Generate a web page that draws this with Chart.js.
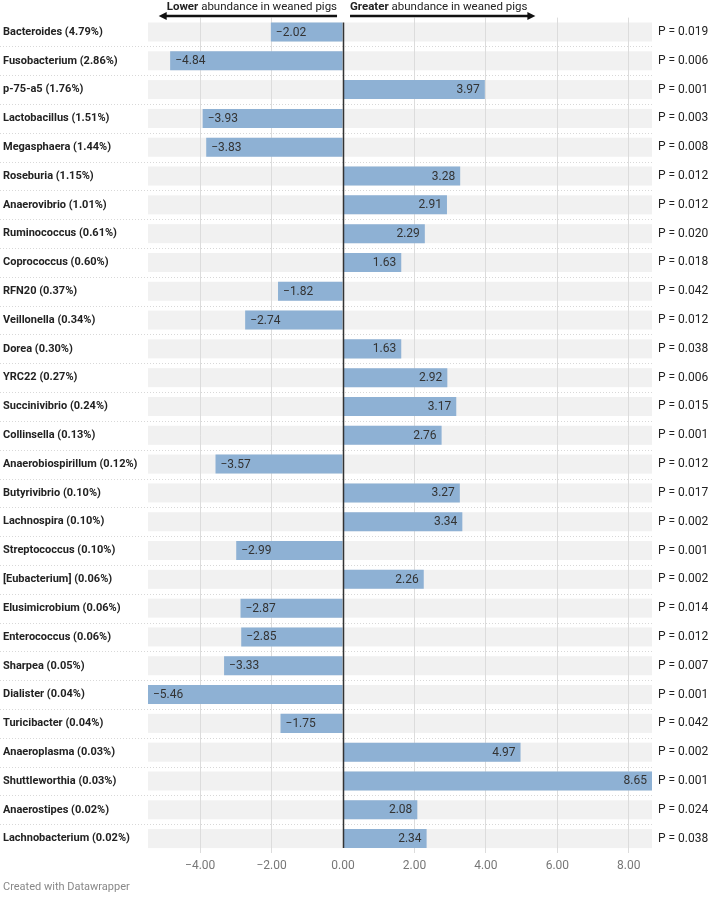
<!DOCTYPE html>
<html>
<head>
<meta charset="utf-8">
<script src="https://cdn.jsdelivr.net/npm/chart.js@4"></script>
<style>
  body { margin: 0; background: #fff; }
  canvas { display: block; }
</style>
</head>
<body>
<canvas id="chart" width="708" height="898"></canvas>
<script>
const genera = ['Bacteroides (4.79%)', 'Fusobacterium (2.86%)', 'p-75-a5 (1.76%)', 'Lactobacillus (1.51%)',
    'Megasphaera (1.44%)', 'Roseburia (1.15%)', 'Anaerovibrio (1.01%)', 'Ruminococcus (0.61%)',
    'Coprococcus (0.60%)', 'RFN20 (0.37%)', 'Veillonella (0.34%)', 'Dorea (0.30%)', 'YRC22 (0.27%)',
    'Succinivibrio (0.24%)', 'Collinsella (0.13%)', 'Anaerobiospirillum (0.12%)', 'Butyrivibrio (0.10%)',
    'Lachnospira (0.10%)', 'Streptococcus (0.10%)', '[Eubacterium] (0.06%)', 'Elusimicrobium (0.06%)',
    'Enterococcus (0.06%)', 'Sharpea (0.05%)', 'Dialister (0.04%)', 'Turicibacter (0.04%)',
    'Anaeroplasma (0.03%)', 'Shuttleworthia (0.03%)', 'Anaerostipes (0.02%)', 'Lachnobacterium (0.02%)'];

const foldChange = [-2.02, -4.84, 3.97, -3.93, -3.83, 3.28, 2.91, 2.29, 1.63, -1.82, -2.74, 1.63, 2.92,
    3.17, 2.76, -3.57, 3.27, 3.34, -2.99, 2.26, -2.87, -2.85, -3.33, -5.46, -1.75, 4.97, 8.65, 2.08, 2.34];

const pValues = ['0.019', '0.006', '0.001', '0.003', '0.008', '0.012', '0.012', '0.020', '0.018', '0.042',
    '0.012', '0.038', '0.006', '0.015', '0.001', '0.012', '0.017', '0.002', '0.001', '0.002', '0.014',
    '0.012', '0.007', '0.001', '0.042', '0.002', '0.001', '0.024', '0.038'];

const headerLeft = ['Lower', ' abundance in weaned pigs'];
const headerRight = ['Greater', ' abundance in weaned pigs'];
const footerText = 'Created with Datawrapper';

const FONT = 'Roboto, "Noto Sans", sans-serif';
const minus = v => (v < 0 ? '\u2212' : '') + Math.abs(v).toFixed(2);

// grey band behind every row + dotted separators
const rowBands = {
    id: 'rowBands',
    beforeDraw(chart) {
        const {ctx, chartArea} = chart;
        const bars = chart.getDatasetMeta(0).data;
        ctx.save();
        ctx.fillStyle = '#f1f1f1';
        bars.forEach(bar => {
            ctx.fillRect(chartArea.left, bar.y - bar.height / 2, chartArea.right - chartArea.left, bar.height);
        });
        ctx.strokeStyle = '#d8d8d8';
        ctx.lineWidth = 1;
        ctx.setLineDash([1, 2]);
        for (let i = 0; i < bars.length - 1; i++) {
            const yy = Math.round((bars[i].y + bars[i + 1].y) / 2) + 0.5;
            ctx.beginPath();
            ctx.moveTo(0, yy);
            ctx.lineTo(chartArea.right, yy);
            ctx.stroke();
        }
        ctx.restore();
    }
};

// value labels, zero line, header arrows and footer
const decorations = {
    id: 'decorations',
    afterDatasetsDraw(chart) {
        const {ctx, scales: {x}} = chart;
        const bars = chart.getDatasetMeta(0).data;
        ctx.save();
        ctx.font = '12px ' + FONT;
        ctx.fillStyle = '#333';
        ctx.textBaseline = 'middle';
        bars.forEach((bar, i) => {
            const v = foldChange[i];
            if (v < 0) {
                ctx.textAlign = 'left';
                ctx.fillText(minus(v), bar.x + 5, bar.y + 0.5);
            } else {
                ctx.textAlign = 'right';
                ctx.fillText(minus(v), bar.x - 5, bar.y + 0.5);
            }
        });
        // zero line
        const x0 = Math.round(x.getPixelForValue(0)) + 0.5;
        const first = bars[0], last = bars[bars.length - 1];
        ctx.strokeStyle = '#333';
        ctx.lineWidth = 1.5;
        ctx.beginPath();
        ctx.moveTo(x0, first.y - first.height / 2);
        ctx.lineTo(x0, last.y + last.height / 2);
        ctx.stroke();
        ctx.restore();
    },
    afterDraw(chart) {
        const {ctx, scales: {x}} = chart;
        const x0 = x.getPixelForValue(0);
        const hFont = '11.5px ' + FONT;
        const hBold = 'bold 11.5px ' + FONT;
        ctx.save();
        ctx.fillStyle = '#222';
        ctx.textBaseline = 'middle';
        ctx.textAlign = 'left';
        // left header, ends just before the zero line
        ctx.font = hFont;
        const wRest = ctx.measureText(headerLeft[1]).width;
        ctx.font = hBold;
        const wBold = ctx.measureText(headerLeft[0]).width;
        const lStart = x0 - 6 - wRest - wBold;
        ctx.fillText(headerLeft[0], lStart, 7);
        ctx.font = hFont;
        ctx.fillText(headerLeft[1], lStart + wBold, 7);
        // right header
        const rStart = x0 + 7;
        ctx.font = hBold;
        ctx.fillText(headerRight[0], rStart, 7);
        const wBold2 = ctx.measureText(headerRight[0]).width;
        ctx.font = hFont;
        ctx.fillText(headerRight[1], rStart + wBold2, 7);
        const wRest2 = ctx.measureText(headerRight[1]).width;

        // arrows
        const lTip = lStart - 8;
        const rTip = rStart + wBold2 + wRest2 + 8;
        ctx.strokeStyle = '#111';
        ctx.lineWidth = 2.5;
        ctx.beginPath();
        ctx.moveTo(x0 - 6, 16);
        ctx.lineTo(lTip + 5, 16);
        ctx.moveTo(rStart, 16);
        ctx.lineTo(rTip - 5, 16);
        ctx.stroke();
        ctx.fillStyle = '#111';
        ctx.beginPath();
        ctx.moveTo(lTip, 16);
        ctx.lineTo(lTip + 8, 12);
        ctx.lineTo(lTip + 8, 20);
        ctx.closePath();
        ctx.fill();
        ctx.beginPath();
        ctx.moveTo(rTip, 16);
        ctx.lineTo(rTip - 8, 12);
        ctx.lineTo(rTip - 8, 20);
        ctx.closePath();
        ctx.fill();

        // footer
        ctx.font = '11px ' + FONT;
        ctx.fillStyle = '#888';
        ctx.fillText(footerText, 3, 887);
        ctx.restore();
    }
};

const ctx = document.getElementById('chart').getContext('2d');
const myChart = new Chart(ctx, {
    type: 'bar',
    data: {
        labels: genera,
        datasets: [{
            data: foldChange,
            backgroundColor: '#8eb1d4',
            borderWidth: 0,
            barPercentage: 0.66,
            categoryPercentage: 1,
            yAxisID: 'y'
        }]
    },
    options: {
        indexAxis: 'y',
        responsive: false,
        animation: false,
        devicePixelRatio: 1,
        layout: {
            padding: {top: 17.6, left: 3, right: 0, bottom: 25}
        },
        plugins: {
            legend: {display: false},
            tooltip: {enabled: false}
        },
        scales: {
            x: {
                type: 'linear',
                min: Math.min(...foldChange),
                max: Math.max(...foldChange),
                ticks: {
                    stepSize: 2,
                    includeBounds: false,
                    color: '#777',
                    font: {family: FONT, size: 12},
                    padding: 6,
                    callback: v => minus(v)
                },
                grid: {
                    color: c => (c.tick && c.tick.value === 0) ? 'rgba(0,0,0,0)' : '#dcdcdc',
                    drawTicks: false
                },
                border: {display: false},
                afterFit: scale => { scale.height = 20; }
            },
            y: {
                type: 'category',
                position: 'left',
                grid: {display: false},
                border: {display: false},
                ticks: {
                    crossAlign: 'far',
                    color: '#222',
                    font: {family: FONT, size: 11, weight: 'bold'}
                },
                afterFit: scale => { scale.width = 145; }
            },
            p: {
                type: 'category',
                position: 'right',
                labels: pValues.map(p => 'P = ' + p),
                grid: {display: false, drawTicks: false},
                border: {display: false},
                ticks: {
                    crossAlign: 'near',
                    padding: 6,
                    color: '#222',
                    font: {family: FONT, size: 12}
                },
                afterFit: scale => { scale.width = 56; }
            }
        }
    },
    plugins: [rowBands, decorations]
});
</script>
</body>
</html>
